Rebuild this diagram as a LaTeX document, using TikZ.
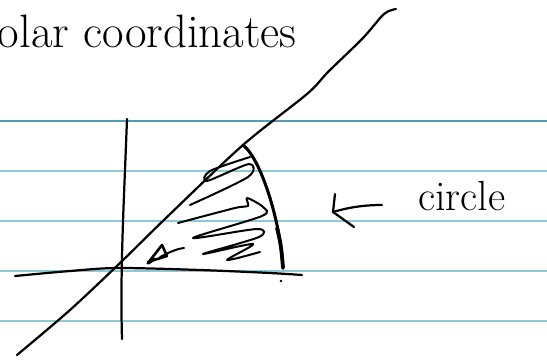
\documentclass[tikz,border=0pt]{standalone}
\usepackage{tikz}
\usetikzlibrary{positioning}
\definecolor{ruleblue}{RGB}{140,202,214}
\definecolor{ruledark}{RGB}{80,158,180}

\begin{document}
\begin{tikzpicture}[x=0.03cm, y=-0.03cm, line cap=round, line join=round,
        ink/.style={draw=black, line width=1.9pt},
        rule/.style={draw=ruleblue, line width=1.3pt},
        hand/.style={font=\fontsize{36}{40}\selectfont, inner sep=0pt}]
    \useasboundingbox (0,0) rectangle (547,360);
    \clip (0,0) rectangle (547,360);

    % ruled paper
    \draw[rule, draw=ruledark, line width=0.9pt] (0,121) -- (547,121);
    \foreach \y in {171,221,271,321}
        \draw[rule] (0,\y) -- (547,\y);

    % heading, cut off at the left
    \node[hand, font=\fontsize{40}{44}\selectfont, anchor=base east] (title) at (297,47) {polar coordinates};

    % axes
    \coordinate (ytop) at (127,119);
    \coordinate (ybot) at (122,339);
    \coordinate (xleft) at (15,276);
    \coordinate (xright) at (302,275);
    \draw[ink] (ytop) .. controls (124,200) and (120,270) .. (ybot);
    \draw[ink] plot[smooth] coordinates {(xleft) (70,271) (118,268) (200,270) (270,273) (xright)};

    % ray
    \coordinate (raylow) at (17,355);
    \coordinate (rayhigh) at (396,9);
    \draw[ink] plot[smooth] coordinates {(raylow) (70,310) (120,263) (167,217)
        (243,145) (307,94) (328,72) (363,38) (384,14) (rayhigh)};

    % arc of the wedge
    \coordinate (arcstart) at (243,145);
    \coordinate (arcend) at (283,268);
    \draw[ink, line width=2.6pt] (arcstart) .. controls (262,160) and (281,225) .. (arcend);
    \draw[ink, line width=3.2pt] (277,228) .. controls (281,245) .. (arcend);
    \fill (281,281) circle (1.3);

    % hatching
    \draw[ink, line width=1.7pt] plot[smooth] coordinates {(250,157) (210,171) (207,181)
        (249,164) (248,177) (190,205)};
    \draw[ink, line width=1.7pt] plot[smooth] coordinates {(178,223) (235,208) (248,206)
        (247,198) (263,207) (262,216) (193,238) (257,229) (259,237) (203,254)
        (253,244) (227,260) (260,252)};

    % angle mark
    \draw[ink, line width=2.2pt] (148,263) -- (162,245) -- (167,256) -- (151,261);
    \draw[ink, line width=3pt] (148,263) -- (154,259);
    \draw[ink, line width=1.7pt] (160,257) .. controls (170,252) and (176,249) .. (184,248);

    % label and pointer
    \node[hand, anchor=base west] (circlbl) at (418,210) {circle};
    \coordinate (arrowtail) at (382,205);
    \coordinate (arrowtip) at (333,212);
    \draw[ink] (arrowtail) .. controls (365,205) and (350,207) .. (arrowtip);
    \draw[ink] (335,194) -- (arrowtip) -- (354,227);
\end{tikzpicture}
\end{document}
